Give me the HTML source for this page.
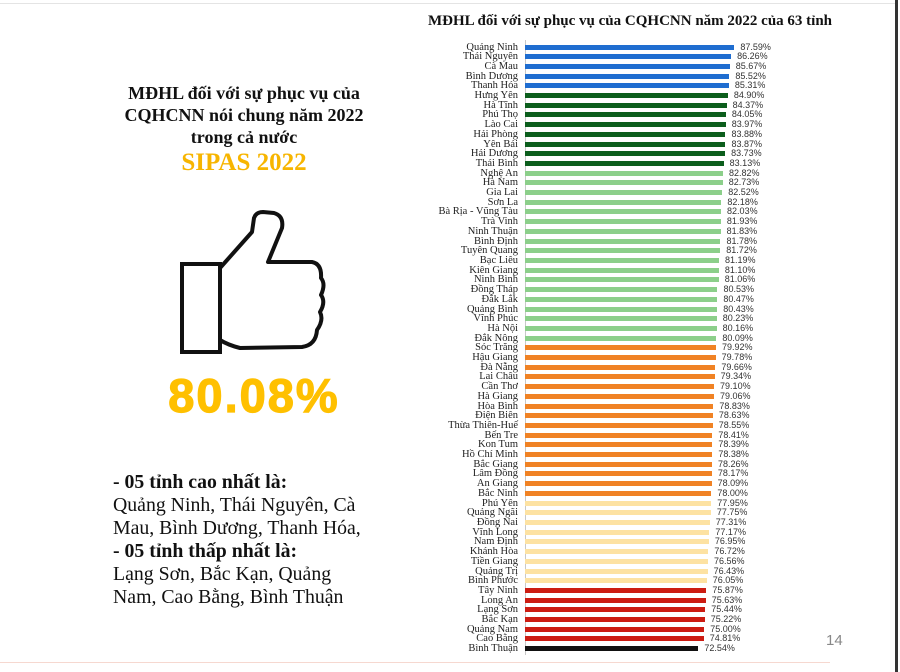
<!DOCTYPE html>
<html><head><meta charset="utf-8"><style>
*{margin:0;padding:0;box-sizing:border-box}
body{width:900px;height:672px;background:#fff;position:relative;overflow:hidden;font-family:"Liberation Serif",serif}
.t{position:absolute;left:94px;width:300px;text-align:center;font-weight:bold;font-size:18px;color:#111}
.b{position:absolute;left:113px;font-size:19.8px;color:#111;white-space:nowrap}
#rows{position:absolute;left:400px;top:42.2px}
.r{height:9.71px;display:flex;align-items:center}
.l{width:118px;text-align:right;font-size:10.5px;line-height:9px;color:#222;white-space:nowrap}
.k{height:5px;margin-left:7px}
.v{font-family:"Liberation Sans",sans-serif;font-size:9px;color:#333;margin-left:6px;line-height:9px}
.c1{background:#1f6dd0}.c2{background:#0c5e1c}.c3{background:#8ccf8a}.c4{background:#f08224}.c5{background:#fde2a2}.c6{background:#cc1c12}.c7{background:#111}
</style></head><body>
<div style="position:absolute;left:0;top:3px;width:896px;height:1px;background:#e4e4e4"></div>
<div style="position:absolute;left:895px;top:0;width:3px;height:672px;background:#333"></div>
<div style="position:absolute;left:0;top:662px;width:830px;height:1px;background:#f6d8d0"></div>
<div style="position:absolute;left:826px;top:632px;font-family:'Liberation Sans',sans-serif;font-size:15px;color:#888">14</div>

<div class="t" style="top:83px">MĐHL đối với sự phục vụ của</div>
<div class="t" style="top:105px">CQHCNN nói chung năm 2022</div>
<div class="t" style="top:127px">trong cả nước</div>
<div class="t" style="top:149px;font-size:25px;color:#f7b500">SIPAS 2022</div>
<svg style="position:absolute;left:0;top:0" width="420" height="420">
<rect x="182" y="264" width="38" height="88" fill="none" stroke="#111" stroke-width="4"/>
<path d="M220 268 L252 232 L254 218 Q256 212 263 212 L274 213 Q284 216 282 228 L268 262 L312 262 Q322 264 321 278 Q326 284 321 295 Q326 302 320 312 Q324 320 317 330 Q316 345 302 347 L240 348 Q228 345 220 340" fill="none" stroke="#111" stroke-width="4" stroke-linejoin="round"/>
</svg>
<div style="position:absolute;left:94px;width:320px;text-align:center;top:368px;font-family:'Liberation Sans',sans-serif;font-weight:bold;font-size:47px;letter-spacing:2px;color:#ffc000;-webkit-text-stroke:1.2px #ffc000">80.08%</div>

<div class="b" style="top:471px;font-weight:bold">- 05 tỉnh cao nhất là:</div>
<div class="b" style="top:494px">Quảng Ninh, Thái Nguyên, Cà</div>
<div class="b" style="top:517px">Mau, Bình Dương, Thanh Hóa,</div>
<div class="b" style="top:540px;font-weight:bold">- 05 tỉnh thấp nhất là:</div>
<div class="b" style="top:563px">Lạng Sơn, Bắc Kạn, Quảng</div>
<div class="b" style="top:586px">Nam, Cao Bằng, Bình Thuận</div>

<div style="position:absolute;left:420px;top:13px;width:420px;text-align:center;font-weight:bold;font-size:15px;color:#111">MĐHL đối với sự phục vụ của CQHCNN năm 2022 của 63 tỉnh</div>
<div style="position:absolute;left:525px;top:40px;width:1px;height:615px;background:#c8c8c8"></div>

<div id="rows">
<div class="r"><span class="l">Quảng Ninh</span><span class="k c1" style="width:calc(87.59px*2.39)"></span><span class="v">87.59%</span></div>
<div class="r"><span class="l">Thái Nguyên</span><span class="k c1" style="width:calc(86.26px*2.39)"></span><span class="v">86.26%</span></div>
<div class="r"><span class="l">Cà Mau</span><span class="k c1" style="width:calc(85.67px*2.39)"></span><span class="v">85.67%</span></div>
<div class="r"><span class="l">Bình Dương</span><span class="k c1" style="width:calc(85.52px*2.39)"></span><span class="v">85.52%</span></div>
<div class="r"><span class="l">Thanh Hóa</span><span class="k c1" style="width:calc(85.31px*2.39)"></span><span class="v">85.31%</span></div>
<div class="r"><span class="l">Hưng Yên</span><span class="k c2" style="width:calc(84.90px*2.39)"></span><span class="v">84.90%</span></div>
<div class="r"><span class="l">Hà Tĩnh</span><span class="k c2" style="width:calc(84.37px*2.39)"></span><span class="v">84.37%</span></div>
<div class="r"><span class="l">Phú Thọ</span><span class="k c2" style="width:calc(84.05px*2.39)"></span><span class="v">84.05%</span></div>
<div class="r"><span class="l">Lào Cai</span><span class="k c2" style="width:calc(83.97px*2.39)"></span><span class="v">83.97%</span></div>
<div class="r"><span class="l">Hải Phòng</span><span class="k c2" style="width:calc(83.88px*2.39)"></span><span class="v">83.88%</span></div>
<div class="r"><span class="l">Yên Bái</span><span class="k c2" style="width:calc(83.87px*2.39)"></span><span class="v">83.87%</span></div>
<div class="r"><span class="l">Hải Dương</span><span class="k c2" style="width:calc(83.73px*2.39)"></span><span class="v">83.73%</span></div>
<div class="r"><span class="l">Thái Bình</span><span class="k c2" style="width:calc(83.13px*2.39)"></span><span class="v">83.13%</span></div>
<div class="r"><span class="l">Nghệ An</span><span class="k c3" style="width:calc(82.82px*2.39)"></span><span class="v">82.82%</span></div>
<div class="r"><span class="l">Hà Nam</span><span class="k c3" style="width:calc(82.73px*2.39)"></span><span class="v">82.73%</span></div>
<div class="r"><span class="l">Gia Lai</span><span class="k c3" style="width:calc(82.52px*2.39)"></span><span class="v">82.52%</span></div>
<div class="r"><span class="l">Sơn La</span><span class="k c3" style="width:calc(82.18px*2.39)"></span><span class="v">82.18%</span></div>
<div class="r"><span class="l">Bà Rịa - Vũng Tàu</span><span class="k c3" style="width:calc(82.03px*2.39)"></span><span class="v">82.03%</span></div>
<div class="r"><span class="l">Trà Vinh</span><span class="k c3" style="width:calc(81.93px*2.39)"></span><span class="v">81.93%</span></div>
<div class="r"><span class="l">Ninh Thuận</span><span class="k c3" style="width:calc(81.83px*2.39)"></span><span class="v">81.83%</span></div>
<div class="r"><span class="l">Bình Định</span><span class="k c3" style="width:calc(81.78px*2.39)"></span><span class="v">81.78%</span></div>
<div class="r"><span class="l">Tuyên Quang</span><span class="k c3" style="width:calc(81.72px*2.39)"></span><span class="v">81.72%</span></div>
<div class="r"><span class="l">Bạc Liêu</span><span class="k c3" style="width:calc(81.19px*2.39)"></span><span class="v">81.19%</span></div>
<div class="r"><span class="l">Kiên Giang</span><span class="k c3" style="width:calc(81.10px*2.39)"></span><span class="v">81.10%</span></div>
<div class="r"><span class="l">Ninh Bình</span><span class="k c3" style="width:calc(81.06px*2.39)"></span><span class="v">81.06%</span></div>
<div class="r"><span class="l">Đồng Tháp</span><span class="k c3" style="width:calc(80.53px*2.39)"></span><span class="v">80.53%</span></div>
<div class="r"><span class="l">Đắk Lắk</span><span class="k c3" style="width:calc(80.47px*2.39)"></span><span class="v">80.47%</span></div>
<div class="r"><span class="l">Quảng Bình</span><span class="k c3" style="width:calc(80.43px*2.39)"></span><span class="v">80.43%</span></div>
<div class="r"><span class="l">Vĩnh Phúc</span><span class="k c3" style="width:calc(80.23px*2.39)"></span><span class="v">80.23%</span></div>
<div class="r"><span class="l">Hà Nội</span><span class="k c3" style="width:calc(80.16px*2.39)"></span><span class="v">80.16%</span></div>
<div class="r"><span class="l">Đắk Nông</span><span class="k c3" style="width:calc(80.09px*2.39)"></span><span class="v">80.09%</span></div>
<div class="r"><span class="l">Sóc Trăng</span><span class="k c4" style="width:calc(79.92px*2.39)"></span><span class="v">79.92%</span></div>
<div class="r"><span class="l">Hậu Giang</span><span class="k c4" style="width:calc(79.78px*2.39)"></span><span class="v">79.78%</span></div>
<div class="r"><span class="l">Đà Nẵng</span><span class="k c4" style="width:calc(79.66px*2.39)"></span><span class="v">79.66%</span></div>
<div class="r"><span class="l">Lai Châu</span><span class="k c4" style="width:calc(79.34px*2.39)"></span><span class="v">79.34%</span></div>
<div class="r"><span class="l">Cần Thơ</span><span class="k c4" style="width:calc(79.10px*2.39)"></span><span class="v">79.10%</span></div>
<div class="r"><span class="l">Hà Giang</span><span class="k c4" style="width:calc(79.06px*2.39)"></span><span class="v">79.06%</span></div>
<div class="r"><span class="l">Hòa Bình</span><span class="k c4" style="width:calc(78.83px*2.39)"></span><span class="v">78.83%</span></div>
<div class="r"><span class="l">Điện Biên</span><span class="k c4" style="width:calc(78.63px*2.39)"></span><span class="v">78.63%</span></div>
<div class="r"><span class="l">Thừa Thiên-Huế</span><span class="k c4" style="width:calc(78.55px*2.39)"></span><span class="v">78.55%</span></div>
<div class="r"><span class="l">Bến Tre</span><span class="k c4" style="width:calc(78.41px*2.39)"></span><span class="v">78.41%</span></div>
<div class="r"><span class="l">Kon Tum</span><span class="k c4" style="width:calc(78.39px*2.39)"></span><span class="v">78.39%</span></div>
<div class="r"><span class="l">Hồ Chí Minh</span><span class="k c4" style="width:calc(78.38px*2.39)"></span><span class="v">78.38%</span></div>
<div class="r"><span class="l">Bắc Giang</span><span class="k c4" style="width:calc(78.26px*2.39)"></span><span class="v">78.26%</span></div>
<div class="r"><span class="l">Lâm Đồng</span><span class="k c4" style="width:calc(78.17px*2.39)"></span><span class="v">78.17%</span></div>
<div class="r"><span class="l">An Giang</span><span class="k c4" style="width:calc(78.09px*2.39)"></span><span class="v">78.09%</span></div>
<div class="r"><span class="l">Bắc Ninh</span><span class="k c4" style="width:calc(78.00px*2.39)"></span><span class="v">78.00%</span></div>
<div class="r"><span class="l">Phú Yên</span><span class="k c5" style="width:calc(77.95px*2.39)"></span><span class="v">77.95%</span></div>
<div class="r"><span class="l">Quảng Ngãi</span><span class="k c5" style="width:calc(77.75px*2.39)"></span><span class="v">77.75%</span></div>
<div class="r"><span class="l">Đồng Nai</span><span class="k c5" style="width:calc(77.31px*2.39)"></span><span class="v">77.31%</span></div>
<div class="r"><span class="l">Vĩnh Long</span><span class="k c5" style="width:calc(77.17px*2.39)"></span><span class="v">77.17%</span></div>
<div class="r"><span class="l">Nam Định</span><span class="k c5" style="width:calc(76.95px*2.39)"></span><span class="v">76.95%</span></div>
<div class="r"><span class="l">Khánh Hòa</span><span class="k c5" style="width:calc(76.72px*2.39)"></span><span class="v">76.72%</span></div>
<div class="r"><span class="l">Tiền Giang</span><span class="k c5" style="width:calc(76.56px*2.39)"></span><span class="v">76.56%</span></div>
<div class="r"><span class="l">Quảng Trị</span><span class="k c5" style="width:calc(76.43px*2.39)"></span><span class="v">76.43%</span></div>
<div class="r"><span class="l">Bình Phước</span><span class="k c5" style="width:calc(76.05px*2.39)"></span><span class="v">76.05%</span></div>
<div class="r"><span class="l">Tây Ninh</span><span class="k c6" style="width:calc(75.87px*2.39)"></span><span class="v">75.87%</span></div>
<div class="r"><span class="l">Long An</span><span class="k c6" style="width:calc(75.63px*2.39)"></span><span class="v">75.63%</span></div>
<div class="r"><span class="l">Lạng Sơn</span><span class="k c6" style="width:calc(75.44px*2.39)"></span><span class="v">75.44%</span></div>
<div class="r"><span class="l">Bắc Kạn</span><span class="k c6" style="width:calc(75.22px*2.39)"></span><span class="v">75.22%</span></div>
<div class="r"><span class="l">Quảng Nam</span><span class="k c6" style="width:calc(75.00px*2.39)"></span><span class="v">75.00%</span></div>
<div class="r"><span class="l">Cao Bằng</span><span class="k c6" style="width:calc(74.81px*2.39)"></span><span class="v">74.81%</span></div>
<div class="r"><span class="l">Bình Thuận</span><span class="k c7" style="width:calc(72.54px*2.39)"></span><span class="v">72.54%</span></div>
</div>
</body></html>
